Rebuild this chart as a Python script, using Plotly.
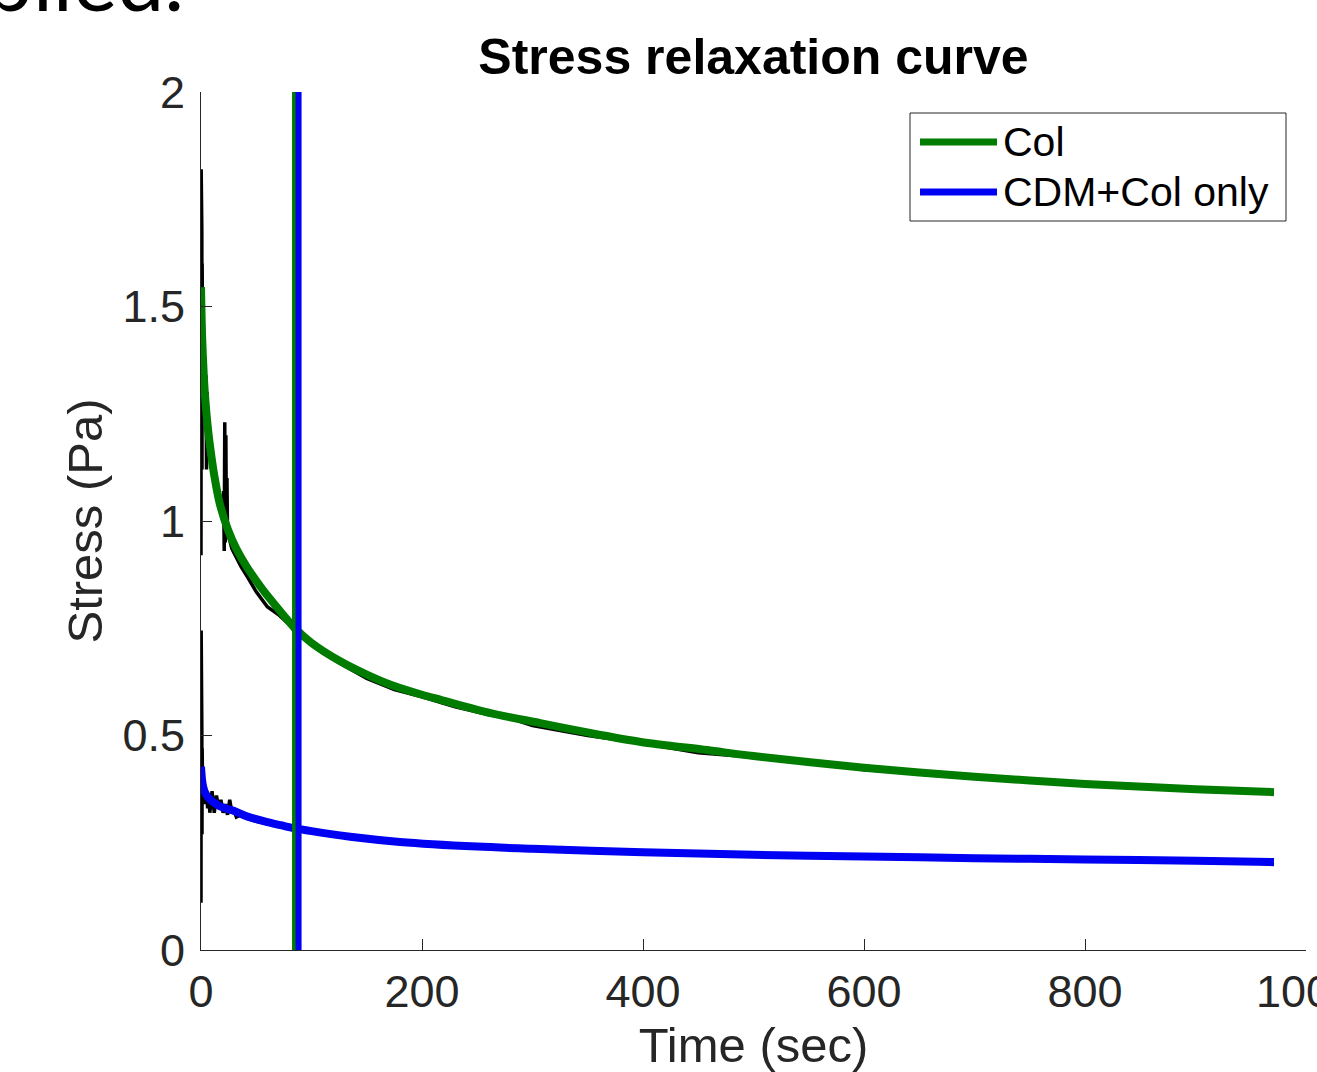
import plotly.graph_objects as go

# ---------------- data ----------------
# fitted curve, Col
col_fit_t = [0, 1, 2.5, 4, 6.5, 10, 12.7, 17, 24.5, 32, 41, 55, 70, 84, 100, 126, 150,
             171, 200, 217, 262, 307, 352, 398, 458, 500, 600, 700, 800, 900, 971]
col_fit_s = [1.545, 1.43, 1.34, 1.28, 1.21, 1.14, 1.096, 1.04, 0.979, 0.935, 0.895, 0.843,
             0.795, 0.753, 0.716, 0.673, 0.642, 0.619, 0.595, 0.583, 0.552, 0.529, 0.506,
             0.485, 0.466, 0.452, 0.425, 0.404, 0.387, 0.375, 0.368]

# fitted curve, CDM+Col only
cdm_fit_t = [0, 1, 2, 3.5, 6, 10, 15, 20, 29, 40, 50, 60, 72, 84, 100, 135, 180, 250, 300,
             400, 500, 600, 700, 800, 900, 971]
cdm_fit_s = [0.427, 0.395, 0.38, 0.368, 0.357, 0.347, 0.338, 0.332, 0.325, 0.313, 0.305,
             0.298, 0.291, 0.284, 0.277, 0.264, 0.252, 0.241, 0.236, 0.228, 0.222, 0.218,
             0.214, 0.211, 0.208, 0.205]

# raw (noisy) measurements, drawn in black under the fits
col_raw_t = [0, 0.15, 0.3, 0.45, 0.6, 0.75, 0.9, 1.05, 1.2, 1.4, 1.6, 2.0, 2.5, 3.0, 4.0,
             4.5, 5.0, 5.5, 6.0, 6.5, 7.0, 8.0, 10, 12, 14, 16, 18, 20, 20.5, 21, 21.5, 22,
             22.5, 23, 23.5, 24, 26, 28, 32, 36, 42, 50, 60, 70, 80, 84, 95, 110, 130, 150,
             175, 200, 230, 262, 280, 300, 350, 400, 450, 500, 560, 600, 650, 700, 750, 800,
             850, 900, 950, 971]
col_raw_s = [0.92, 1.82, 1.0, 1.75, 1.05, 1.68, 1.12, 1.6, 1.2, 1.5, 1.3, 1.38, 1.3, 1.33,
             1.25, 1.34, 1.12, 1.3, 1.15, 1.24, 1.16, 1.18, 1.12, 1.09, 1.06, 1.05, 1.02,
             1.0, 1.07, 0.93, 1.23, 0.95, 1.2, 0.96, 1.1, 0.97, 0.955, 0.935, 0.915, 0.895,
             0.87, 0.835, 0.8, 0.782, 0.758, 0.745, 0.722, 0.693, 0.662, 0.633, 0.607, 0.59,
             0.567, 0.548, 0.54, 0.523, 0.5, 0.482, 0.46, 0.449, 0.437, 0.42, 0.413, 0.401,
             0.395, 0.384, 0.378, 0.372, 0.367, 0.366]

cdm_raw_t = [0, 0.15, 0.3, 0.45, 0.6, 0.75, 0.9, 1.05, 1.2, 1.4, 1.6, 2.0, 2.5, 3.0, 4.0,
             5.0, 6.0, 7.0, 8.0, 10, 12, 14, 16, 18, 20, 22, 24, 26, 28, 30, 32, 36, 42, 50,
             60, 70, 84, 100, 130, 160, 200, 250, 300, 350, 400, 500, 600, 700, 800, 900,
             950, 971]
cdm_raw_s = [0.11, 0.745, 0.16, 0.6, 0.22, 0.52, 0.27, 0.47, 0.31, 0.43, 0.34, 0.4, 0.35,
             0.38, 0.34, 0.37, 0.33, 0.36, 0.32, 0.37, 0.32, 0.36, 0.33, 0.35, 0.32, 0.34,
             0.315, 0.35, 0.32, 0.325, 0.31, 0.315, 0.307, 0.3, 0.294, 0.288, 0.281, 0.274,
             0.264, 0.256, 0.249, 0.24, 0.235, 0.23, 0.226, 0.22, 0.216, 0.212, 0.209,
             0.206, 0.205, 0.199]

# vertical marker lines (time, sec)
marker_times = [84.2, 88.3]

series_names = ["Col", "CDM+Col only"]
x_ticks = [0, 200, 400, 600, 800, 1000]
y_ticks = [0, 0.5, 1, 1.5, 2]
y_tick_text = ["0", "0.5", "1", "1.5", "2"]

# ---------------- styles ----------------
GREEN = "#007c00"
BLUE = "#0000f2"
AX = "#262626"
FONT = "Liberation Sans, Arial, Helvetica, sans-serif"

W, H = 1317, 1072
ML, MR, MT, MB = 201, 11, 92, 122
PW, PH = W - ML - MR, H - MT - MB


def px(xp):
    return (xp - ML) / PW


def py(yp):
    return (H - MB - yp) / PH


fig = go.Figure()

fig.add_trace(go.Scatter(x=col_raw_t, y=col_raw_s, mode="lines",
                         line=dict(color="black", width=3.5), showlegend=False,
                         hoverinfo="skip"))
fig.add_trace(go.Scatter(x=cdm_raw_t, y=cdm_raw_s, mode="lines",
                         line=dict(color="black", width=3.5), showlegend=False,
                         hoverinfo="skip"))
fig.add_trace(go.Scatter(x=col_fit_t, y=col_fit_s, mode="lines", name=series_names[0],
                         line=dict(color=GREEN, width=8, shape="spline", smoothing=0.8),
                         showlegend=False))
fig.add_trace(go.Scatter(x=cdm_fit_t, y=cdm_fit_s, mode="lines", name=series_names[1],
                         line=dict(color=BLUE, width=8, shape="spline", smoothing=0.8),
                         showlegend=False))

fig.add_vline(x=marker_times[0], line=dict(color=GREEN, width=4), layer="above")
fig.add_vline(x=marker_times[1], line=dict(color=BLUE, width=6), layer="above")

# legend box (drawn manually to match MATLAB style)
leg_x0, leg_x1, leg_y0, leg_y1 = px(910), px(1286), py(221), py(113)
fig.add_shape(type="rect", xref="paper", yref="paper", x0=leg_x0, x1=leg_x1,
              y0=leg_y0, y1=leg_y1, line=dict(color=AX, width=1), fillcolor="white",
              layer="above")
for name, col, yp in [(series_names[0], GREEN, 142), (series_names[1], BLUE, 192)]:
    fig.add_shape(type="line", xref="paper", yref="paper", x0=px(920), x1=px(997),
                  y0=py(yp), y1=py(yp), line=dict(color=col, width=7), layer="above")
    fig.add_annotation(xref="paper", yref="paper", x=px(1001), y=py(yp), text=name,
                       showarrow=False, xanchor="left", yanchor="middle",
                       font=dict(family=FONT, size=41, color="black"))

# clipped caption text at the very top-left of the source image
fig.add_annotation(xref="paper", yref="paper", x=px(186), y=py(31), text="applied.",
                   showarrow=False, xanchor="right", yanchor="bottom",
                   font=dict(family="Lato, sans-serif", size=84, color="black"))

fig.update_layout(
    width=W, height=H,
    margin=dict(l=ML, r=MR, t=MT, b=MB, autoexpand=False),
    paper_bgcolor="white", plot_bgcolor="white",
    title=dict(text="<b>Stress relaxation curve</b>", x=0.5, xref="paper",
               xanchor="center", y=1 - 56 / H, yanchor="middle", yref="container",
               font=dict(family=FONT, size=50, color="black")),
    font=dict(family=FONT, color=AX),
)

fig.update_xaxes(range=[0, 1000], tickvals=x_ticks, ticks="inside", ticklen=11,
                 tickcolor=AX, showline=True, linecolor=AX, linewidth=1, mirror=False,
                 showgrid=False, zeroline=False, tickfont=dict(size=45, color=AX),
                 ticklabelstandoff=2, ticklabeloverflow="allow",
                 title=dict(text="Time (sec)", font=dict(size=49, color=AX), standoff=18))
fig.update_yaxes(range=[0, 2], tickvals=y_ticks, ticktext=y_tick_text, ticks="inside",
                 ticklen=11, tickcolor=AX, showline=True, linecolor=AX, linewidth=1,
                 mirror=False, showgrid=False, zeroline=False,
                 tickfont=dict(size=45, color=AX), ticklabelstandoff=6,
                 title=dict(text="Stress (Pa)", font=dict(size=49, color=AX), standoff=4))

fig.write_html("out.html")
